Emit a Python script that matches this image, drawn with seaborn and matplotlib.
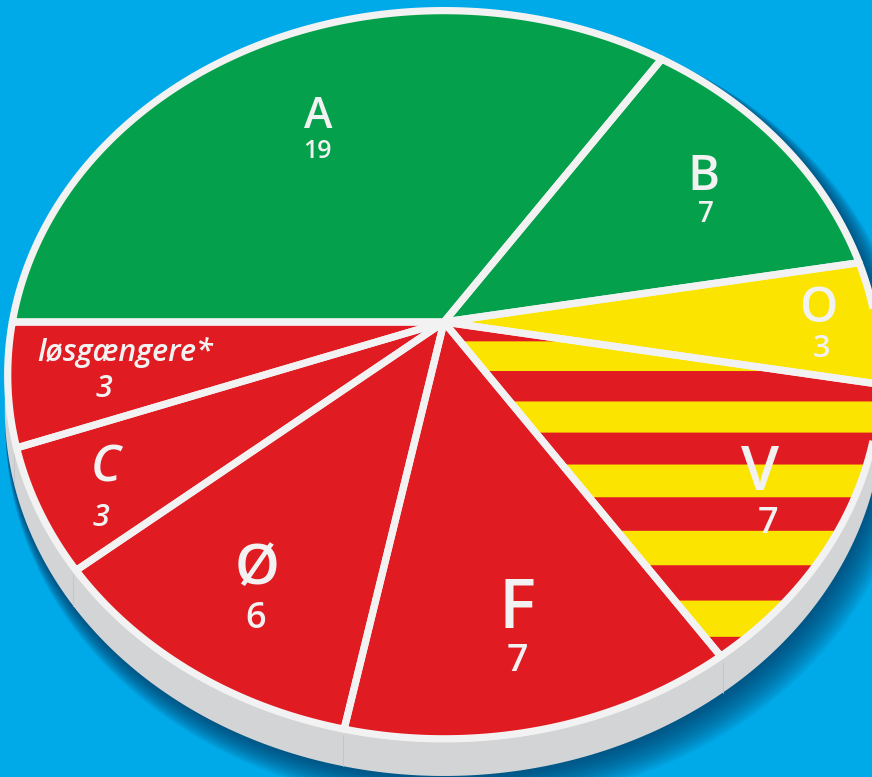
import numpy as np
import matplotlib
matplotlib.use("Agg")
import matplotlib.pyplot as plt
from matplotlib.patches import Polygon
import seaborn as sns

# seats per group
parties = ["A", "B", "O", "V", "F", "Ø", "C", "løsgængere*"]
seats = [19, 7, 3, 7, 7, 6, 3, 3]

GREEN, RED, YELLOW = "#05a04b", "#e11b22", "#fbe500"
slice_fill = [GREEN, GREEN, YELLOW, YELLOW, RED, RED, RED, RED]
striped = [False, False, False, True, False, False, False, False]

BLUE = "#00aae9"
WHITE = "#f2f2f2"
RIM = "#d3d4d6"

# label layout (pixel x, baseline y, size, italic)
name_lay = [(318, 128, 31, False), (703, 190, 35, False), (818, 322, 35, False),
            (760, 490, 44, False), (517, 628, 50, False), (257, 584, 41, False),
            (106, 482, 36, True), (125, 361, 22, True)]
num_lay = [(317, 158, 18, False), (706, 222, 20, False), (821, 357, 22, False),
           (768, 533, 26, False), (517, 671, 27, False), (256, 628, 26, False),
           (101, 526, 22, True), (104, 397, 22, True)]

sns.set_style("white")
plt.rcParams["font.family"] = ["Open Sans", "DejaVu Sans"]

# tilted disc: circle coords (u, v) -> screen pixels with perspective
HUB_X, HUB_Y = 444, 322
SX, SY, K = 434.5, 358.8, 0.1457
DEPTH = 34


def proj(u, v):
    d = 1 + K * v
    return np.column_stack([HUB_X + SX * u / d, HUB_Y - SY * v / d])


def arc(r, a0, a1, n=120):
    t = np.linspace(a0, a1, n)
    return proj(r * np.cos(t), r * np.sin(t))


def convex_hull(pts):
    pts = sorted(map(tuple, pts))

    def cross(o, a, b):
        return (a[0] - o[0]) * (b[1] - o[1]) - (a[1] - o[1]) * (b[0] - o[0])
    lower, upper = [], []
    for p in pts:
        while len(lower) >= 2 and cross(lower[-2], lower[-1], p) <= 0:
            lower.pop()
        lower.append(p)
    for p in reversed(pts):
        while len(upper) >= 2 and cross(upper[-2], upper[-1], p) <= 0:
            upper.pop()
        upper.append(p)
    return np.array(lower[:-1] + upper[:-1])


fig = plt.figure(figsize=(8.72, 7.77), dpi=100)
fig.patch.set_facecolor(BLUE)
ax = fig.add_axes([0, 0, 1, 1])
ax.set_facecolor(BLUE)
ax.set_xlim(0, 872)
ax.set_ylim(777, 0)
ax.axis("off")

top = arc(1.0, 0, 2 * np.pi, 400)
bottom = top + np.array([0, DEPTH])
body = convex_hull(np.vstack([top, bottom]))

# soft shadow, mostly to the lower right
cx, cy = body[:, 0].mean(), body[:, 1].mean()
for i in range(1, 15):
    f = 1 + i * 0.9 / 420
    sh = np.column_stack([cx + (body[:, 0] - cx) * f + i * 1.0,
                          cy + (body[:, 1] - cy) * f + i * 1.3])
    ax.add_patch(Polygon(sh, closed=True, fc="#04335c", ec="none", alpha=0.075, zorder=1))

ax.add_patch(Polygon(body, closed=True, fc=RIM, ec="none", zorder=2))
ax.add_patch(Polygon(top, closed=True, fc=WHITE, ec="none", zorder=4))

total = sum(seats)
cum = np.concatenate([[0], np.cumsum(seats)]) / total * 2 * np.pi
starts = np.pi - cum[:-1]
ends = np.pi - cum[1:]

R_IN = 0.9935
wedges = []
for i, s in enumerate(seats):
    pts = np.vstack([[HUB_X, HUB_Y], arc(R_IN, starts[i], ends[i])])
    wedge = Polygon(pts, closed=True, fc=slice_fill[i], ec="none", zorder=5)
    ax.add_patch(wedge)
    wedges.append(pts)
    if striped[i]:
        # horizontal red bands, equal width on the disc
        for j in range(0, 14, 2):
            v0 = 0.027 - 0.0805 * (j + 1)
            v1 = 0.027 - 0.0805 * j
            band = np.vstack([proj(np.array([-1.2, 1.2]), np.array([v1, v1])),
                              proj(np.array([1.2, -1.2]), np.array([v0, v0]))])
            bp = ax.add_patch(Polygon(band, closed=True, fc=RED, ec="none", zorder=6))
            bp.set_clip_path(wedge)

for pts in wedges:
    ax.add_patch(Polygon(pts, closed=True, fill=False, ec=WHITE, lw=5.2,
                         joinstyle="round", zorder=7))

# seams on the rim below each spoke
for a in ends:
    p = proj(np.array([np.cos(a)]), np.array([np.sin(a)]))[0]
    if np.sin(a) < 0:
        ax.plot([p[0], p[0]], [p[1] + 3, p[1] + DEPTH], color="#c2c3c8", lw=0.6, zorder=3)

for i, name in enumerate(parties):
    x, y, fs, it = name_lay[i]
    ax.text(x, y, name, color=WHITE, fontsize=fs, ha="center", va="baseline",
            fontweight="semibold", style="italic" if it else "normal", zorder=8)
    x, y, fs, it = num_lay[i]
    ax.text(x, y, str(seats[i]), color=WHITE, fontsize=fs, ha="center", va="baseline",
            fontweight="semibold", style="italic" if it else "normal", zorder=8)

fig.savefig("out.png", dpi=100, facecolor=BLUE)
